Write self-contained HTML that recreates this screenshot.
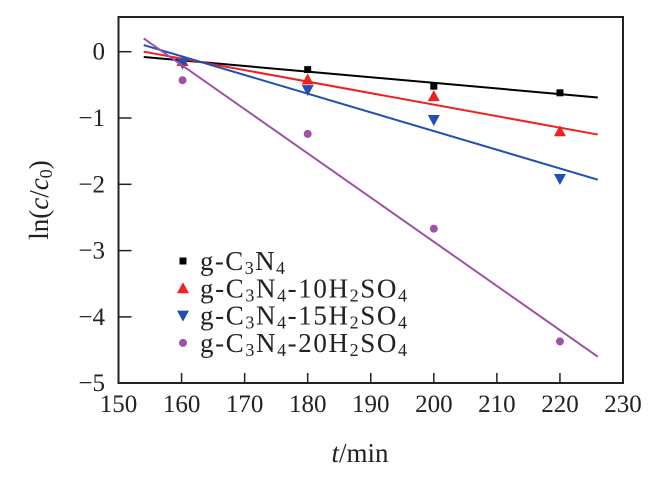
<!DOCTYPE html>
<html><head><meta charset="utf-8"><style>
body{margin:0;background:#fff}
svg text{font-family:"Liberation Serif",serif;fill:#222}
</style></head><body>
<svg width="661" height="477" viewBox="0 0 661 477">
<g id="plot"></g>
</svg>
<script>
const xTicks=[150,160,170,180,190,200,210,220,230];
const yTicks=[0,-1,-2,-3,-4,-5];
const times=[160,180,200,220];
const s0=[-0.15,-0.27,-0.52,-0.62];
const s10=[-0.14,-0.42,-0.67,-1.2];
const s15=[-0.18,-0.58,-1.03,-1.92];
const s20=[-0.43,-1.24,-2.67,-4.37];
const fitX=[154,226];
const fit0=[-0.08,-0.69];
const fit10=[0.0,-1.25];
const fit15=[0.1,-1.93];
const fit20=[0.2,-4.6];
const L=118.5,R=623,T=17,B=383;
const X=t=>L+(t-150)*(R-L)/80;
const Y=v=>51.7-v*66.3;
const NS="http://www.w3.org/2000/svg";
const g=document.getElementById('plot');
function mk(tag,at,parent){const e=document.createElementNS(NS,tag);for(const k in at)e.setAttribute(k,at[k]);(parent||g).appendChild(e);return e;}
const frame=mk('rect',{x:L,y:T,width:R-L,height:B-T,fill:'none',stroke:'#222','stroke-width':2});


xTicks.forEach(t=>{
  const ln=mk('line',{x1:X(t),x2:X(t),y1:B,y2:B-10,stroke:'#222','stroke-width':1.5});
  
  
  const tx=mk('text',{x:X(t),y:B+29,'text-anchor':'middle','font-size':25});
  tx.textContent=t;
  
  
});
yTicks.forEach(v=>{
  const ln=mk('line',{x1:L,x2:L+13,y1:Y(v),y2:Y(v),stroke:'#222','stroke-width':1.5});
  
  
  const tx=mk('text',{x:105,y:Y(v)+8,'text-anchor':'end','font-size':25});
  tx.textContent=v===0?'0':'\u2212'+Math.abs(v);
  
  
});
const series=[[s0,fit0,'#000','square'],[s10,fit10,'#f02020','up'],[s15,fit15,'#2050b0','down'],[s20,fit20,'#a050a8','circle']];
function marker(shape,cx,cy,col,nm){
  let e;
  if(shape==='square')e=mk('rect',{x:cx-3.5,y:cy-3.5,width:7,height:7,fill:col});
  else if(shape==='up')e=mk('polygon',{points:`${cx},${cy-6} ${cx-6},${cy+5} ${cx+6},${cy+5}`,fill:col});
  else if(shape==='down')e=mk('polygon',{points:`${cx},${cy+6} ${cx-6},${cy-5} ${cx+6},${cy-5}`,fill:col});
  else e=mk('circle',{cx:cx,cy:cy,r:4,fill:col});
  
  
}
series.forEach((s,i)=>{
  const fl=mk('line',{x1:X(fitX[0]),y1:Y(s[1][0]),x2:X(fitX[1]),y2:Y(s[1][1]),stroke:s[2],'stroke-width':2});
  
  
  times.forEach((t,j)=>marker(s[3],X(t)+(j===0?1:0),Y(s[0][j]),s[2],'point-'+i));
});
const subs=[["g-C","3","N","4"],["g-C","3","N","4","-10H","2","SO","4"],["g-C","3","N","4","-15H","2","SO","4"],["g-C","3","N","4","-20H","2","SO","4"]];
const widths=[85,207,207,207];
series.forEach((s,i)=>{
  const y=261+i*27.3;
  marker(s[3],183,y,s[2],'legend-marker');
  const tx=mk('text',{x:200,y:y+9,'font-size':27,textLength:widths[i],lengthAdjust:'spacing'});
  
  
  subs[i].forEach((p,k)=>{
    const ts=mk('tspan',{},tx);
    if(k%2===1){ts.setAttribute('font-size','18');ts.setAttribute('dy','4');}
    else if(k>0){ts.setAttribute('dy','-4');}
    ts.textContent=p;
  });
});
const xt=mk('text',{x:360,y:462,'text-anchor':'middle','font-size':27});
xt.innerHTML='<tspan font-style="italic">t</tspan>/min';


const yt=mk('text',{x:0,y:0,'text-anchor':'middle','font-size':27,transform:'translate(48,200) rotate(-90)'});
yt.innerHTML='ln(<tspan font-style="italic">c</tspan>/<tspan font-style="italic">c</tspan><tspan font-size="18" dy="4">0</tspan><tspan dy="-4">)</tspan>';


</script>
</body></html>
